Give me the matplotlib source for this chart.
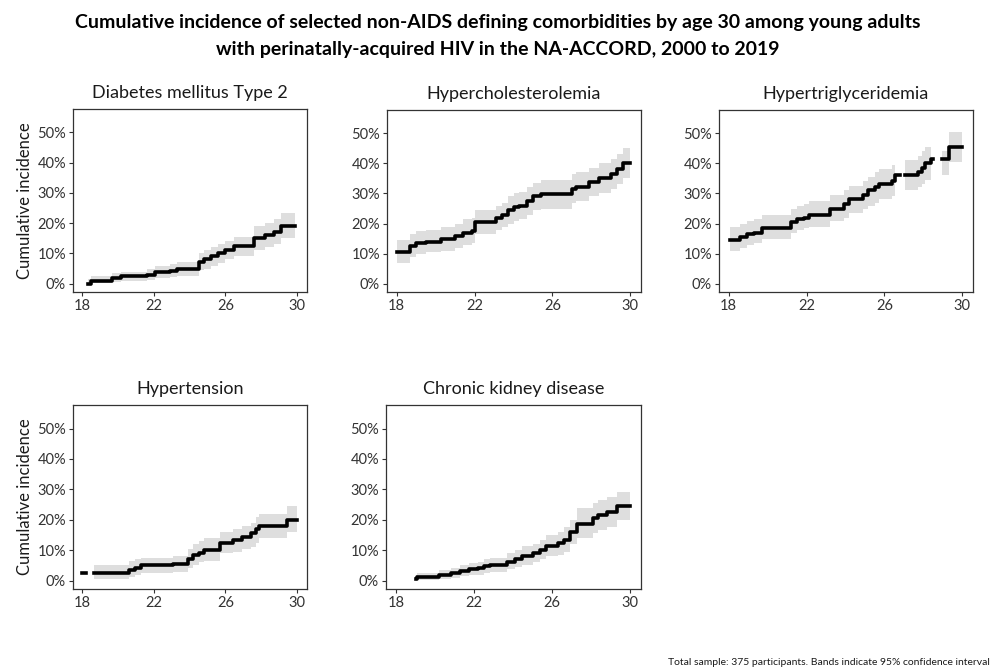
import numpy as np
import matplotlib
matplotlib.use("Agg")
import matplotlib.pyplot as plt
from matplotlib.ticker import FuncFormatter

plt.rcParams["font.family"] = ["Lato", "DejaVu Sans"]

nan = np.nan

# Diabetes mellitus Type 2 (step start ages, estimate %, lower %, upper %)
dm_age = [18.34, 18.5, 19.7, 20.2, 21.6, 22.1, 22.9, 23.3, 24.5, 24.8, 25.2, 25.6, 26.0, 26.5, 27.6, 28.2, 28.7, 29.1, 29.9]
dm_est = [0, 1.0, 2.0, 2.5, 3.0, 3.8, 4.2, 4.8, 7.2, 8.0, 9.0, 10.0, 11.0, 12.3, 15.0, 16.0, 17.0, 19.0, 19.0]
dm_lo = [0, 0.1, 0.5, 0.8, 1.2, 1.8, 2.2, 2.6, 4.5, 5.0, 6.0, 7.0, 8.0, 9.0, 11.0, 12.0, 13.0, 15.0, 15.0]
dm_hi = [1.5, 2.5, 3.5, 4.0, 5.0, 6.0, 6.5, 7.2, 10.0, 11.0, 12.0, 13.0, 14.0, 15.5, 19.0, 20.0, 21.5, 23.5, 23.5]

# Hypercholesterolemia
hc_age = [18.0, 18.7, 19.0, 19.5, 20.3, 21.0, 21.4, 21.85, 22.0, 23.1, 23.4, 23.7, 24.0, 24.3, 24.7, 25.0, 25.4, 27.0, 27.2, 27.9, 28.4, 29.0, 29.3, 29.6, 30.0]
hc_est = [10.5, 12.5, 13.5, 14.0, 14.8, 15.8, 17.0, 17.5, 20.5, 22.0, 23.0, 24.5, 25.5, 26.0, 27.5, 29.0, 29.8, 31.5, 32.3, 33.8, 35.0, 36.5, 38.0, 40.0, 40.0]
hc_lo = [7.0, 9.0, 10.0, 10.5, 11.0, 12.0, 13.0, 13.5, 16.5, 18.0, 19.0, 20.0, 21.0, 21.5, 23.0, 24.5, 25.0, 27.0, 27.5, 29.0, 30.0, 31.5, 33.0, 35.0, 35.0]
hc_hi = [14.5, 16.5, 17.5, 18.0, 19.0, 20.0, 21.5, 22.0, 24.5, 26.0, 27.0, 29.0, 30.0, 30.5, 32.0, 33.5, 34.5, 36.5, 37.0, 38.5, 40.0, 41.5, 43.0, 45.0, 45.0]

# Hypertriglyceridemia (nan = gap in the curve)
tg_age = [18.05, 18.6, 18.95, 19.3, 19.7, 21.2, 21.5, 21.85, 22.1, 23.2, 23.9, 24.2, 24.9, 25.15, 25.5, 25.7, 26.4, 26.55, 26.8, 27.05, 27.7, 27.95, 28.1, 28.4, 28.5, 28.95, 29.3, 30.0]
tg_est = [14.5, 15.5, 16.5, 17.0, 18.5, 20.5, 21.5, 22.0, 23.0, 25.0, 26.5, 28.0, 29.5, 31.0, 32.0, 33.0, 34.0, 36.0, nan, 36.0, 37.0, 38.5, 40.0, 41.5, nan, 41.5, 45.5, 45.5]
tg_lo = [11.0, 12.0, 13.0, 13.5, 15.0, 17.0, 18.0, 18.5, 19.0, 21.0, 22.0, 23.5, 25.0, 26.0, 27.0, 28.0, 29.0, 31.0, nan, 31.0, 32.0, 33.0, 34.5, 36.0, nan, 36.0, 40.5, 40.5]
tg_hi = [19.0, 20.0, 21.0, 21.5, 23.0, 25.0, 26.0, 26.5, 27.5, 29.5, 31.0, 32.5, 34.0, 35.5, 37.0, 38.0, 39.5, 41.0, nan, 41.0, 42.5, 44.0, 45.5, 47.0, nan, 44.0, 50.5, 50.5]

# Hypertension
ht_age = [18.0, 18.2, 18.65, 20.6, 20.95, 21.3, 23.1, 23.9, 24.2, 24.5, 24.8, 25.7, 26.4, 26.9, 27.4, 27.7, 27.9, 29.45, 30.0]
ht_est = [2.5, nan, 2.5, 3.5, 4.2, 5.0, 5.5, 7.0, 8.5, 9.2, 10.2, 12.5, 13.5, 14.5, 15.5, 17.0, 18.0, 20.0, 20.0]
ht_lo = [0.5, nan, 0.5, 1.2, 1.8, 2.5, 2.8, 4.0, 5.0, 6.0, 6.5, 9.0, 9.5, 10.5, 11.0, 12.5, 14.0, 16.0, 16.0]
ht_hi = [5.5, nan, 5.3, 6.5, 7.0, 7.5, 8.0, 10.5, 12.0, 13.0, 14.0, 16.0, 17.0, 18.0, 19.0, 21.0, 22.0, 24.5, 24.5]

# Chronic kidney disease
ck_age = [19.05, 19.1, 20.2, 20.85, 21.3, 21.75, 22.2, 22.5, 22.8, 23.7, 24.1, 24.45, 25.0, 25.4, 25.7, 26.3, 26.6, 26.9, 27.3, 28.1, 28.35, 28.8, 29.3, 30.0]
ck_est = [0.5, 1.1, 1.8, 2.5, 3.2, 3.8, 4.2, 4.8, 5.2, 6.2, 7.2, 8.2, 9.0, 10.0, 11.5, 12.5, 13.5, 16.0, 18.5, 20.5, 21.5, 22.5, 24.5, 24.5]
ck_lo = [0, 0.1, 0.5, 1.0, 1.4, 1.8, 2.0, 2.5, 3.0, 3.8, 4.5, 5.2, 6.0, 7.0, 8.0, 8.5, 9.5, 12.0, 14.0, 15.5, 16.5, 17.5, 20.0, 20.0]
ck_hi = [2.0, 2.5, 3.5, 4.2, 5.0, 5.8, 6.2, 7.0, 7.5, 9.0, 10.0, 11.5, 12.0, 13.5, 15.0, 16.0, 17.5, 20.0, 24.0, 25.5, 26.5, 27.5, 29.0, 29.0]

panels = [
    ("Diabetes mellitus Type 2", dm_age, dm_est, dm_lo, dm_hi, (73, 307, 109, 292), True),
    ("Hypercholesterolemia", hc_age, hc_est, hc_lo, hc_hi, (387, 641, 110, 292), False),
    ("Hypertriglyceridemia", tg_age, tg_est, tg_lo, tg_hi, (719, 973, 110, 292), False),
    ("Hypertension", ht_age, ht_est, ht_lo, ht_hi, (73, 307, 405, 589), True),
    ("Chronic kidney disease", ck_age, ck_est, ck_lo, ck_hi, (386, 641, 405, 589), False),
]

W, H = 995, 671
fig = plt.figure(figsize=(W / 100, H / 100), dpi=100)

for title, age, est, lo, hi, (l, r, t, b), ylab in panels:
    ax = fig.add_axes([l / W, 1 - b / H, (r - l) / W, (b - t) / H])
    age = np.array(age)
    est = np.array(est) / 100
    lo = np.array(lo) / 100
    hi = np.array(hi) / 100
    ax.fill_between(age, lo, hi, step="post", color="#dedede", linewidth=0)
    ax.plot(age, est, drawstyle="steps-post", color="black", linewidth=2.6)
    ax.set_xlim(17.5, 30.55)
    ax.set_ylim(-0.0275, 0.5775)
    ax.set_xticks([18, 22, 26, 30])
    ax.set_yticks([0, 0.1, 0.2, 0.3, 0.4, 0.5])
    ax.yaxis.set_major_formatter(FuncFormatter(lambda v, p: f"{v * 100:.0f}%"))
    ax.tick_params(labelsize=10.5, colors="#333333", length=3, width=0.8, pad=2)
    for s in ax.spines.values():
        s.set_color("#333333")
        s.set_linewidth(0.9)
    ax.set_title(title, fontsize=13, pad=8, color="#1a1a1a")
    if ylab:
        ax.set_ylabel("Cumulative incidence", fontsize=12, color="#1a1a1a", labelpad=3)

fig.text(0.5, 1 - 28 / H, "Cumulative incidence of selected non-AIDS defining comorbidities by age 30 among young adults",
         ha="center", va="baseline", fontsize=14, fontweight="bold")
fig.text(0.5, 1 - 55 / H, "with perinatally-acquired HIV in the NA-ACCORD, 2000 to 2019",
         ha="center", va="baseline", fontsize=14, fontweight="bold")
fig.text(990 / W, 1 - 665 / H, "Total sample: 375 participants. Bands indicate 95% confidence interval",
         ha="right", va="baseline", fontsize=7.5, color="#1a1a1a")

fig.savefig("out.png", dpi=100)
